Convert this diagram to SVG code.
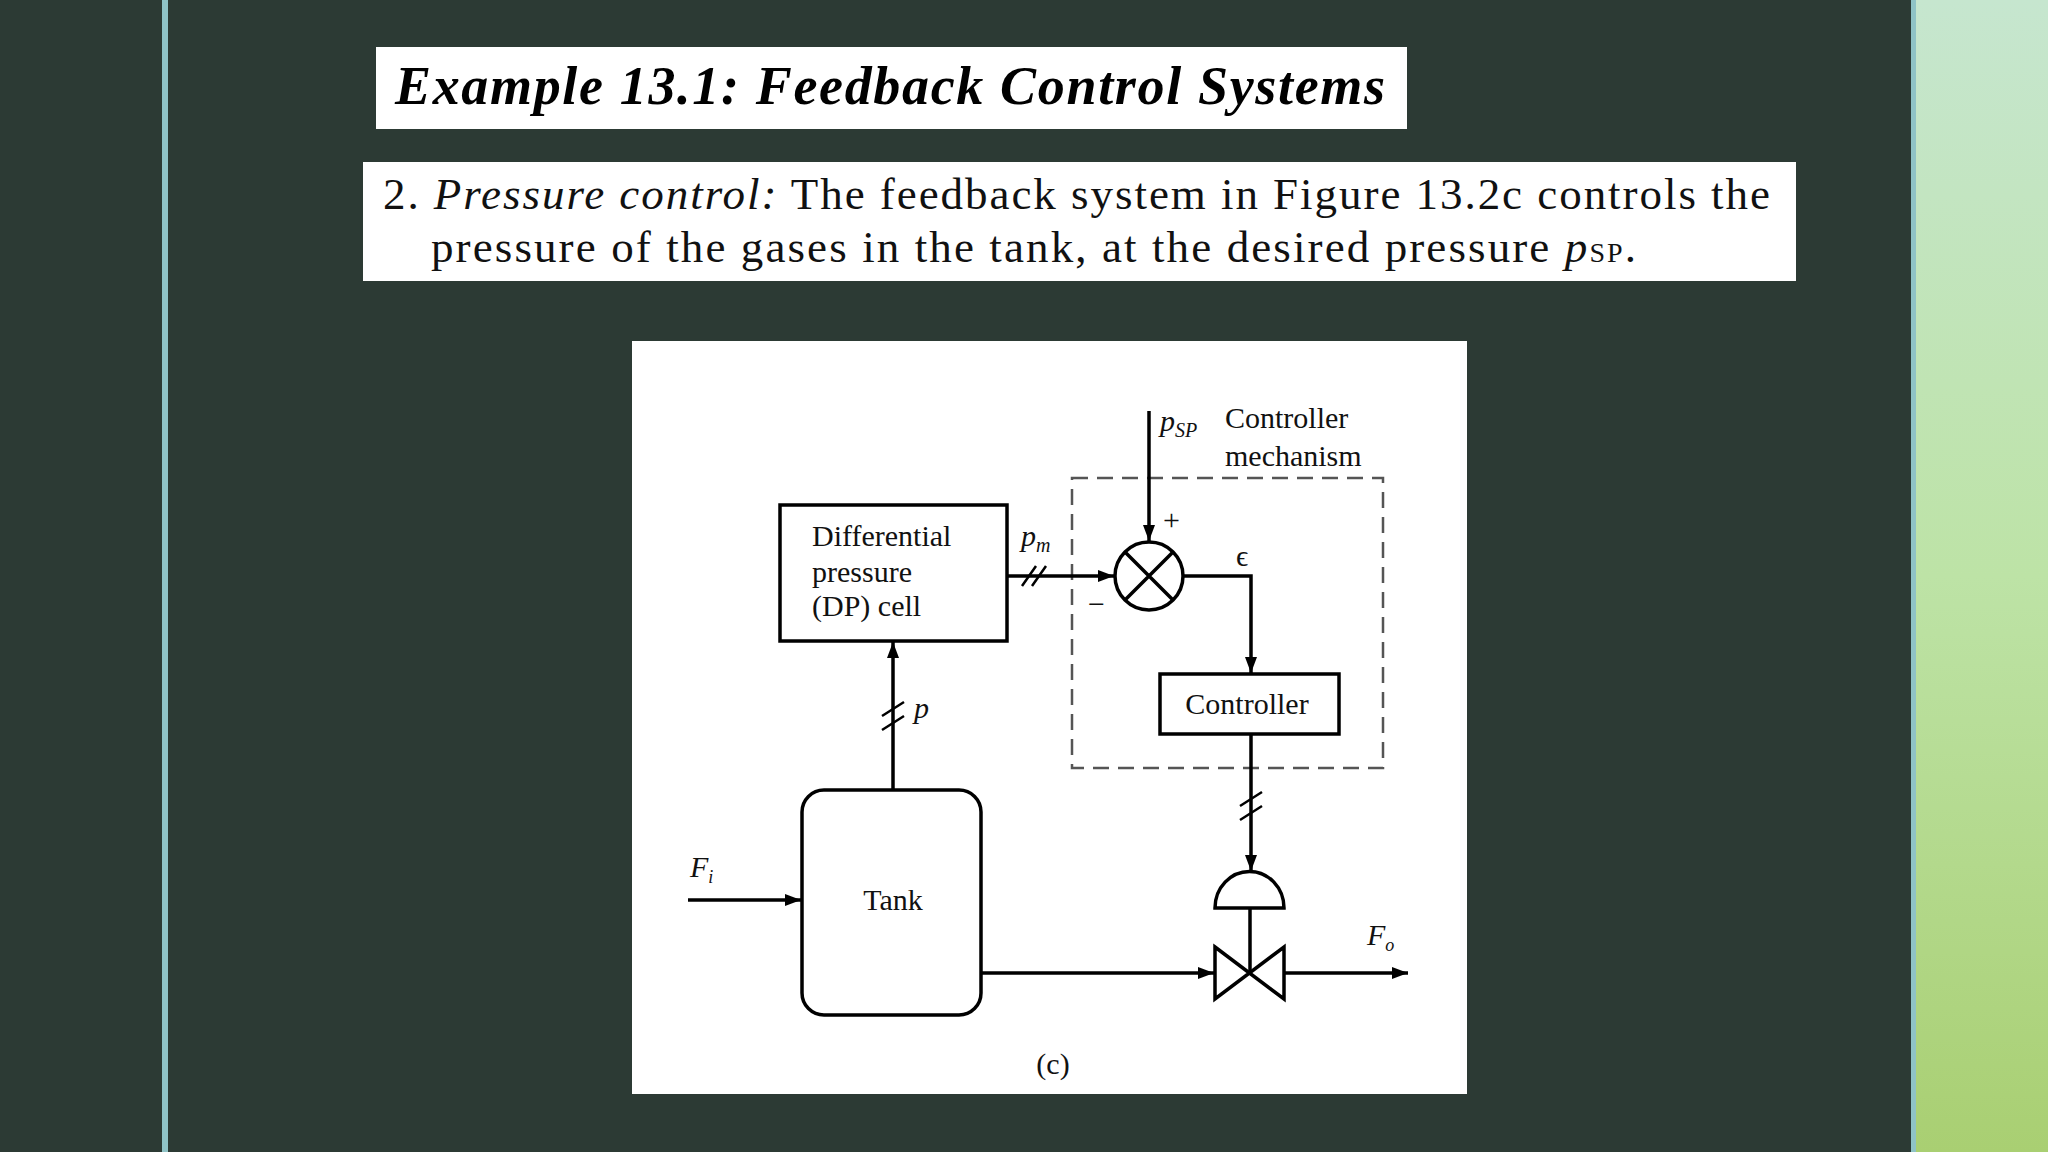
<svg xmlns="http://www.w3.org/2000/svg" width="2048" height="1152" viewBox="0 0 2048 1152">
<defs>
<linearGradient id="g" x1="0" y1="0" x2="0" y2="1"><stop offset="0" stop-color="#c6e6cf"/><stop offset="0.5" stop-color="#bde3a6"/><stop offset="1" stop-color="#a9cf72"/></linearGradient>
<marker id="ar" viewBox="0 0 16 12" refX="16" refY="6" markerWidth="16" markerHeight="12" markerUnits="userSpaceOnUse" orient="auto"><path d="M0,0 L16,6 L0,12 z" fill="#000"/></marker>
</defs>
<style>
.l{stroke:#000;stroke-width:3.5;fill:none}
.b{fill:#fff;stroke:#000;stroke-width:3.5}
.t{font-family:"Liberation Serif",serif;font-size:30px;fill:#111}
.i{font-style:italic}
</style>
<rect width="2048" height="1152" fill="#2c3a34"/>
<rect x="1916" y="0" width="132" height="1152" fill="url(#g)"/>
<rect x="162" y="0" width="6" height="1152" fill="#8fc3c6"/>
<rect x="1911" y="0" width="5" height="1152" fill="#8fc3c6"/>
<rect x="376" y="47" width="1031" height="82" fill="#fff"/>
<text x="395" y="104" font-family="Liberation Serif,serif" font-weight="bold" font-style="italic" font-size="54" textLength="990" fill="#000">Example 13.1: Feedback Control Systems</text>
<rect x="363" y="162" width="1433" height="119" fill="#fff"/>
<text x="383" y="209" font-family="Liberation Serif,serif" font-size="45" textLength="1387" fill="#111">2. <tspan font-style="italic">Pressure control:</tspan> The feedback system in Figure 13.2c controls the</text>
<text x="431" y="262" font-family="Liberation Serif,serif" font-size="45" textLength="1205" fill="#111">pressure of the gases in the tank, at the desired pressure <tspan font-style="italic">p</tspan><tspan font-size="28">SP</tspan>.</text>
<rect x="632" y="341" width="835" height="753" fill="#fff"/>
<g id="dash"><rect x="1072" y="478" width="311" height="290" fill="none" stroke="#555" stroke-width="2.5" stroke-dasharray="16,9"/></g>
<g id="dp"><rect class="b" x="780" y="505" width="227" height="136"/>
<text class="t" x="812" y="546">Differential</text><text class="t" x="812" y="582">pressure</text><text class="t" x="812" y="616">(DP) cell</text></g>
<g id="sum"><circle class="b" cx="1149" cy="576" r="34"/><path class="l" d="M1125,552 L1173,600 M1173,552 L1125,600"/></g>
<g id="ctrl"><rect class="b" x="1160" y="674" width="179" height="60"/><text class="t" x="1247" y="714" text-anchor="middle">Controller</text></g>
<g id="tank"><rect class="b" x="802" y="790" width="179" height="225" rx="22"/><text class="t" x="893" y="910" text-anchor="middle">Tank</text></g>
<g id="valve"><path class="b" d="M1215,908 A34,36 0 0 1 1284,908 Z"/><path class="b" d="M1215,947 L1284,999 L1284,947 L1215,999 Z"/><line class="l" x1="1250" y1="908" x2="1250" y2="973"/></g>
<g id="conn">
<line class="l" x1="1149" y1="411" x2="1149" y2="541" marker-end="url(#ar)"/>
<line class="l" x1="1007" y1="576" x2="1114" y2="576" marker-end="url(#ar)"/>
<polyline class="l" points="1184,576 1251,576 1251,673" marker-end="url(#ar)"/>
<line class="l" x1="1251" y1="734" x2="1251" y2="871" marker-end="url(#ar)"/>
<line class="l" x1="893" y1="790" x2="893" y2="642" marker-end="url(#ar)"/>
<line class="l" x1="688" y1="900" x2="801" y2="900" marker-end="url(#ar)"/>
<line class="l" x1="981" y1="973" x2="1214" y2="973" marker-end="url(#ar)"/>
<line class="l" x1="1284" y1="973" x2="1408" y2="973" marker-end="url(#ar)"/>
<path stroke="#000" stroke-width="2.5" d="M1022,586 L1036,566 M1032,586 L1046,566 M882,716 L904,702 M882,730 L904,716 M1240,806 L1262,792 M1240,820 L1262,806"/>
</g>
<g id="labels">
<text class="t i" x="1160" y="431">p<tspan font-size="20" dy="6">SP</tspan></text>
<text class="t" x="1225" y="428">Controller</text>
<text class="t" x="1225" y="466">mechanism</text>
<text class="t i" x="1021" y="546">p<tspan font-size="20" dy="6">m</tspan></text>
<text class="t i" x="914" y="718">p</text>
<text class="t" x="1163" y="530" font-size="26">+</text>
<text class="t" x="1088" y="614" font-size="26">−</text>
<text class="t" x="1236" y="566" font-size="24">ϵ</text>
<text class="t i" x="690" y="877">F<tspan font-size="18" dy="6">i</tspan></text>
<text class="t i" x="1367" y="945">F<tspan font-size="18" dy="6">o</tspan></text>
<text class="t" x="1053" y="1074" text-anchor="middle">(c)</text>
</g>
</svg>
